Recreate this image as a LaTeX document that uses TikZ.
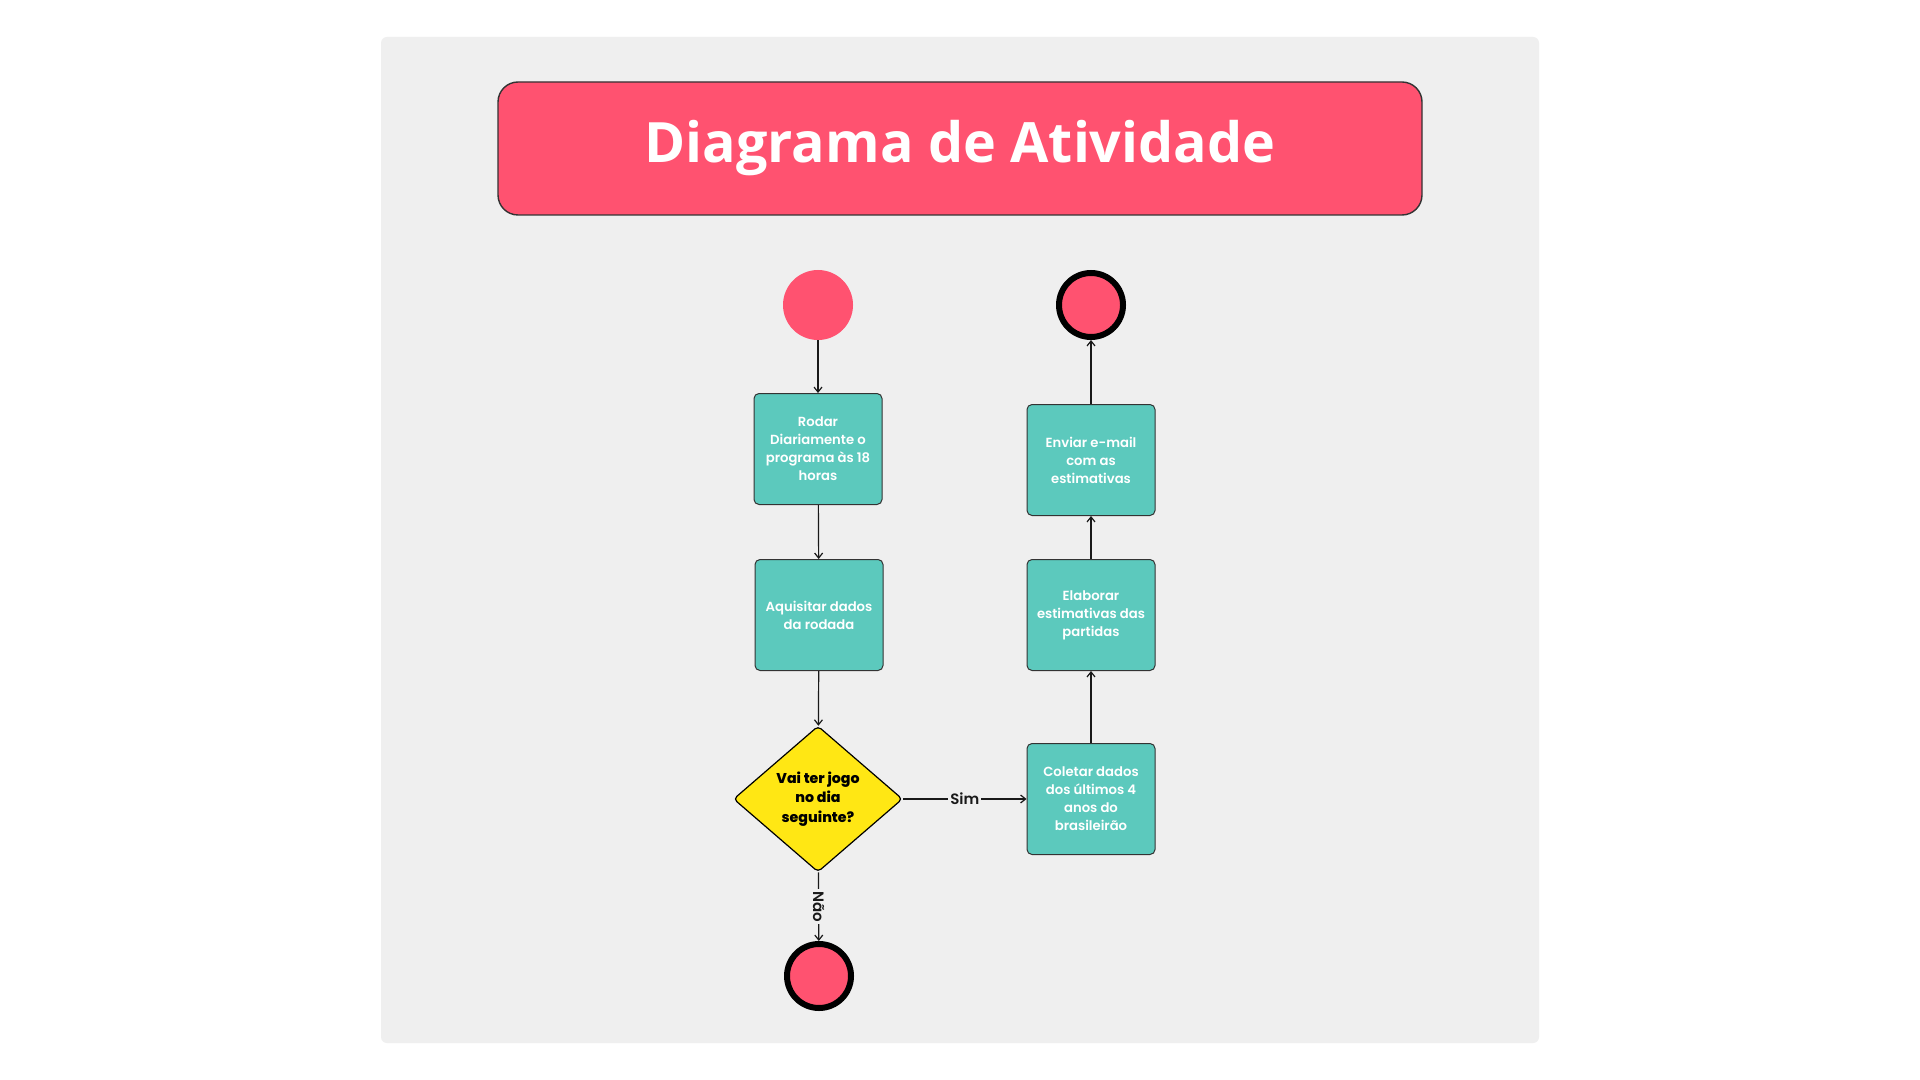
\documentclass[tikz,border=0pt]{standalone}
\usepackage{fontspec}
\setmainfont{Poppins}[UprightFont=* SemiBold, BoldFont=* ExtraBold]
\newfontfamily\titlefont{Open Sans}
\usetikzlibrary{shapes.geometric,arrows.meta}

\definecolor{rosa}{HTML}{FF5270}
\definecolor{verde}{HTML}{5CC9BD}
\definecolor{amarelo}{HTML}{FFE714}
\definecolor{fundo}{HTML}{EFEFEF}

\begin{document}
\begin{tikzpicture}[x=0.5pt,y=-0.5pt,>={Straight Barb[length=2.5pt,width=4pt]},
	atividade/.style={draw=black!80, line width=0.5pt, fill=verde, rounded corners=2.5pt, minimum width=64pt, minimum height=55.5pt, align=center, inner sep=0pt, text=white, font=\fontsize{6.6}{9}\selectfont},
	decisao/.style={diamond, draw=black, line width=0.6pt, fill=amarelo, rounded corners=2pt, minimum width=84.5pt, minimum height=73pt, inner sep=0pt, align=center, font=\fontsize{7.1}{9.8}\selectfont\bfseries},
	inicio/.style={circle, fill=rosa, minimum size=35pt, inner sep=0pt},
	final/.style={circle, draw=black, line width=3pt, fill=rosa, minimum size=32pt, inner sep=0pt},
	rotulo/.style={fill=fundo, inner sep=1pt, font=\fontsize{7.5}{9}\selectfont},
	seta/.style={->, line width=0.6pt, black!90}]
	\useasboundingbox (0,0) rectangle (1920,1080);
	\fill[white] (0,0) rectangle (1920,1080);
	\fill[fundo, rounded corners=3pt] (381,37) rectangle (1539,1043);
	
	\node[draw=black!80, line width=0.7pt, fill=rosa, rounded corners=10pt, minimum width=462pt, minimum height=66.5pt, text=white, font=\titlefont\fontsize{27.8}{34}\selectfont\bfseries] (titulo) at (960,148.5) {Diagrama de Atividade};
	
	\node[inicio] (ini) at (818,305) {};
	\node[atividade] (rodar) at (818,449) {Rodar\\Diariamente o\\programa às 18\\horas};
	\node[atividade] (aquisitar) at (819,615) {Aquisitar dados\\da rodada};
	\node[decisao] (jogo) at (818,799) {Vai ter jogo\\no dia\\seguinte?};
	\node[final] (fimnao) at (819,976) {};
	\node[atividade] (coletar) at (1091,799) {Coletar dados\\dos últimos 4\\anos do\\brasileirão};
	\node[atividade] (elaborar) at (1091,615) {Elaborar\\estimativas das\\partidas};
	\node[atividade] (enviar) at (1091,460) {Enviar e-mail\\com as\\estimativas};
	\node[final] (fimsim) at (1091,305) {};
	
	\draw[seta] (ini) -- (rodar);
	\draw[seta] (rodar) -- (aquisitar);
	\draw[seta] (aquisitar) -- (jogo);
	\draw[seta] (jogo) -- node[rotulo]{Sim} (coletar);
	\draw[seta] (jogo) -- node[rotulo, rotate=-90]{Não} (fimnao);
	\draw[seta] (coletar) -- (elaborar);
	\draw[seta] (elaborar) -- (enviar);
	\draw[seta] (enviar) -- (fimsim);
\end{tikzpicture}
\end{document}
